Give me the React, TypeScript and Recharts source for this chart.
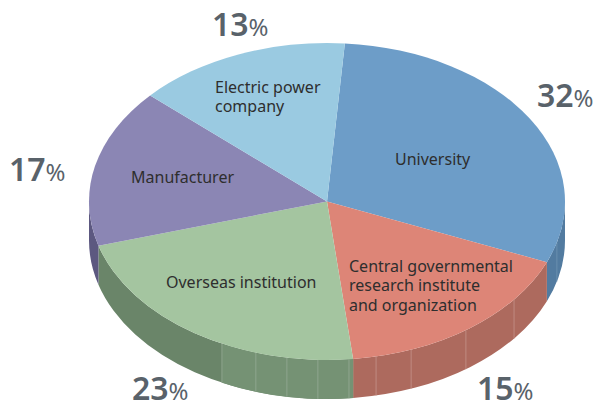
import React from "react";
import { PieChart, Pie, Cell } from "recharts";

const names = ["University", "Central governmental research institute and organization", "Overseas institution", "Manufacturer", "Electric power company"];
const shares = [32, 15, 23, 17, 13];
const nameLines = [
  ["University"],
  ["Central governmental", "research institute", "and organization"],
  ["Overseas institution"],
  ["Manufacturer"],
  ["Electric power", "company"],
];
const topColors = ["#6d9dc8", "#dd8577", "#a4c5a0", "#8b86b4", "#9acae1"];
const wallColors = ["#527ba0", "#ad6a5e", "#6a8569", "#5c5880", "#6a93a8"];
const seamColor = ["#6f93b3", "#c4938a", "#95ab95", "#5c5880", "#6a93a8"];

// Layout: chart geometry only.
const CX = 327, CY = 201.5, RX = 238, RY = 158.5, DEPTH = 39;
const START = 1;
const boundaryNudge = [3.3, -3.7, 3.5, 0.8, -2.2];
const seamAngles = [[105], [128.2, 144.3, 159.3, 168.1], [174.7, 182.2, 189.7, 197.4, 206.2], [], []];
const lighterWallFrom = 206.2;
const nameAt = [
  { dx: 68, dy: -37 },
  { dx: 22, dy: 70 },
  { dx: -161, dy: 86 },
  { dx: -196, dy: -19 },
  { dx: -112, dy: -109 },
];
const pctAt = [
  { dx: 210, dy: -95 },
  { dx: 150, dy: 198 },
  { dx: -195, dy: 198 },
  { dx: -318, dy: -21 },
  { dx: -115, dy: -166 },
];

const rows = names.map((name, i) => ({ name, value: shares[i] }));
const rad = (d: number) => (d * Math.PI) / 180;
const px = (t: number) => CX + RX * Math.sin(rad(t));
const py = (t: number, off = 0) => CY - RY * Math.cos(rad(t)) + off;

function wallPath(a: number, b: number) {
  const lo = Math.max(a, 90), hi = Math.min(b, 270);
  if (hi <= lo) return null;
  return `M${px(lo)},${py(lo)}A${RX},${RY} 0 0 1 ${px(hi)},${py(hi)}L${px(hi)},${py(hi, DEPTH)}A${RX},${RY} 0 0 0 ${px(lo)},${py(lo, DEPTH)}Z`;
}

function Slice(props: any) {
  const i = rows.findIndex((r) => r.name === props.name);
  const a = 90 - props.startAngle + boundaryNudge[i];
  const b = 90 - props.endAngle + boundaryNudge[(i + 1) % rows.length];
  const large = b - a > 180 ? 1 : 0;
  const top = `M${CX},${CY}L${px(a)},${py(a)}A${RX},${RY} 0 ${large} 1 ${px(b)},${py(b)}Z`;
  const wall = wallPath(a, b);
  const lighter = i === 2 ? wallPath(a, lighterWallFrom) : null;
  return (
    <g>
      {wall && <path d={wall} fill={wallColors[i]} />}
      {lighter && <path d={lighter} fill="#759274" />}
      {seamAngles[i].map((t) => (
        <line key={t} x1={px(t)} y1={py(t)} x2={px(t)} y2={py(t, DEPTH)} stroke={seamColor[i]} strokeWidth={0.8} />
      ))}
      <path d={top} fill={topColors[i]} />
    </g>
  );
}

const FONT = "'Noto Sans', sans-serif";

function SliceLabel(props: any) {
  const i = props.index;
  const n = nameAt[i], p = pctAt[i];
  return (
    <g fontFamily={FONT}>
      <text x={CX + n.dx} y={CY + n.dy} fontSize={16} fill="#2e2e2e" textAnchor="start">
        {nameLines[i].map((l, k) => (
          <tspan key={k} x={CX + n.dx} dy={k === 0 ? 0 : 19.5}>{l}</tspan>
        ))}
      </text>
      <text x={CX + p.dx} y={CY + p.dy} fill="#59626a" textAnchor="start">
        <tspan fontSize={32} fontWeight={600}>{shares[i]}</tspan>
        <tspan fontSize={24} fontWeight={400}>%</tspan>
      </text>
    </g>
  );
}

export default function App() {
  return (
    <div style={{ position: "absolute", left: 0, top: 0, width: 593, height: 405 }}>
      <PieChart width={593} height={405} margin={{ top: 0, right: 0, bottom: 0, left: 0 }}>
        <Pie
          data={rows}
          dataKey="value"
          nameKey="name"
          cx={CX}
          cy={CY}
          innerRadius={0}
          outerRadius={RY}
          startAngle={90 - START}
          endAngle={90 - START - 360}
          stroke="none"
          isAnimationActive={false}
          shape={Slice}
          label={SliceLabel}
          labelLine={false}
        >
          {rows.map((r, i) => (
            <Cell key={r.name} fill={topColors[i]} />
          ))}
        </Pie>
      </PieChart>
    </div>
  );
}
